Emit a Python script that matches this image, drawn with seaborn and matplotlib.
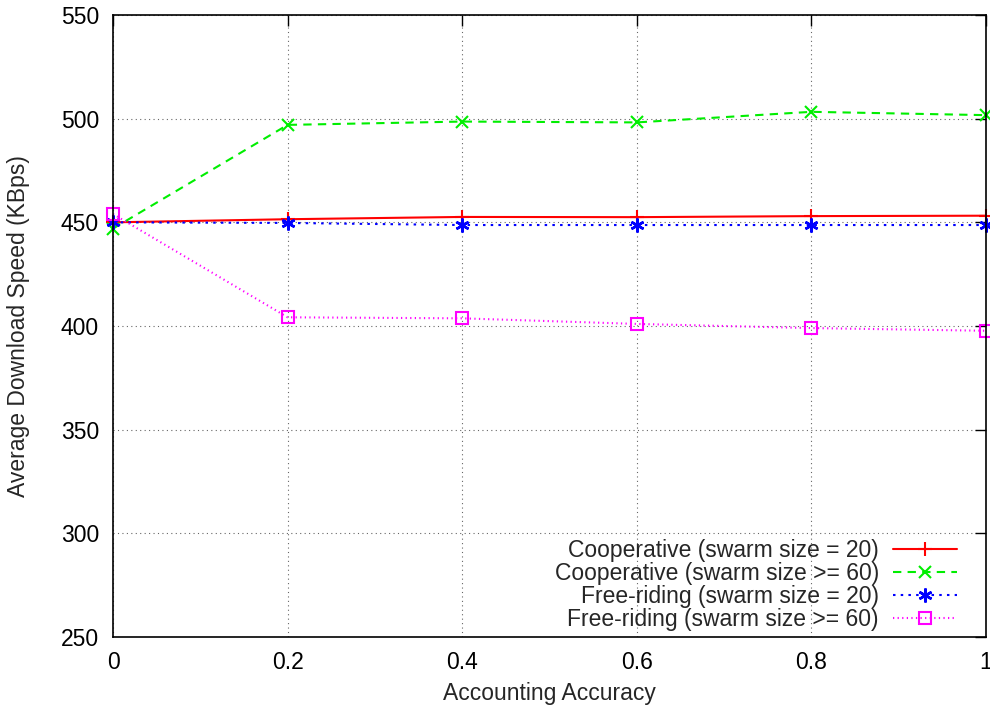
import matplotlib
matplotlib.use("Agg")
import matplotlib.pyplot as plt
import seaborn as sns
import pandas as pd

accuracy = [0.0, 0.2, 0.4, 0.6, 0.8, 1.0]
coop_20 = [450.0, 451.5, 452.6, 452.5, 453.0, 453.2]
coop_60 = [447.0, 497.0, 498.6, 498.2, 503.3, 501.7]
free_20 = [450.0, 449.7, 448.7, 448.7, 448.7, 448.7]
free_60 = [454.0, 404.2, 403.7, 401.0, 399.0, 397.7]

labels = ["Cooperative (swarm size = 20)",
          "Cooperative (swarm size >= 60)",
          "Free-riding (swarm size = 20)",
          "Free-riding (swarm size >= 60)"]

sns.set_style("white")
plt.rcParams['font.family'] = ['Liberation Sans', 'DejaVu Sans']
FS = 16.5

fig = plt.figure(figsize=(9.9, 7.05), dpi=100)
ax = fig.add_axes([113/990, 1-637/705, (986-113)/990, (637-15)/705])

styles = [
    dict(color="#ff0000", linestyle="-", marker="+", ms=10, mew=1.5, mfc="#ff0000"),
    dict(color="#00ee00", linestyle=(0, (4, 3)), marker="x", ms=8, mew=1.5, mfc="#00ee00"),
    dict(color="#0000ff", linestyle=(0, (1.2, 2.5)), marker=(6, 2, 0), ms=10, mew=1.8, mfc="#0000ff"),
    dict(color="#ff00ff", linestyle=(0, (0.6, 1.6)), marker="s", ms=8, mew=1.5, mfc="none"),
]
series = [coop_20, coop_60, free_20, free_60]
for vals, lab, st in zip(series, labels, styles):
    df = pd.DataFrame({"x": accuracy, "y": vals})
    sns.lineplot(data=df, x="x", y="y", ax=ax, label=lab, color=st["color"],
                 linestyle=st["linestyle"], marker=st["marker"], markersize=st["ms"],
                 markeredgewidth=st["mew"], markerfacecolor=st["mfc"],
                 markeredgecolor=st["color"], linewidth=1.5, clip_on=False)

ax.set_xlim(0, 1)
ax.set_ylim(250, 550)
ax.set_xticks([0, 0.2, 0.4, 0.6, 0.8, 1.0])
ax.set_xticklabels(["0", "0.2", "0.4", "0.6", "0.8", "1"])
ax.set_yticks(range(250, 551, 50))
ax.grid(True, color="black", linestyle=(0, (1, 3)), linewidth=0.8, alpha=0.6)
ax.tick_params(direction="in", length=8, width=1, top=True, right=True,
               labelsize=FS, pad=10, colors="black")
for s in ax.spines.values():
    s.set_visible(True)
    s.set_color("black")
    s.set_linewidth(1.2)
ax.set_xlabel("Accounting Accuracy", fontsize=FS, labelpad=6)
ax.set_ylabel("Average Download Speed (KBps)", fontsize=FS, labelpad=22)

leg = ax.legend(loc="lower right", frameon=False, markerfirst=False, fontsize=FS,
                handlelength=2.8, handletextpad=0.6, labelspacing=0.0,
                borderaxespad=0.3, bbox_to_anchor=(0.985, -0.016))
for t in leg.get_texts():
    t.set_ha("right")

fig.savefig("out.png", dpi=100)
